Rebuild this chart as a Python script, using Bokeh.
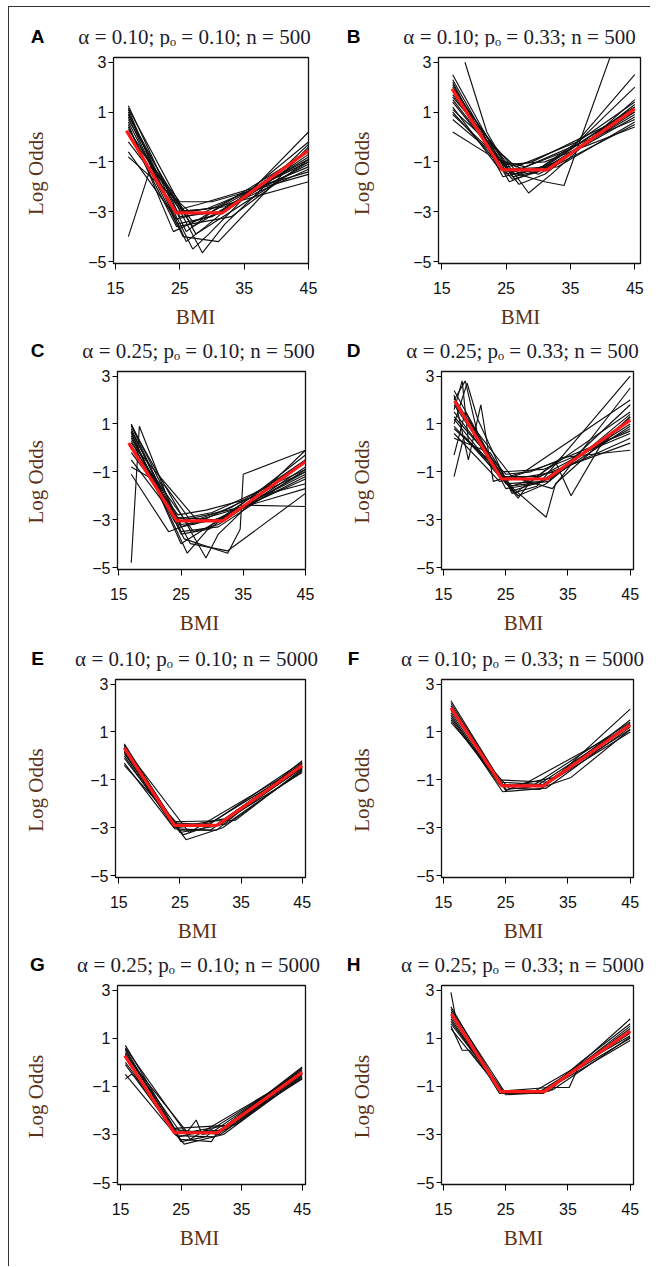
import math
from bokeh.plotting import figure
from bokeh.layouts import column, row
from bokeh.models import FixedTicker, Range1d
from bokeh.core.properties import value
from bokeh.embed import file_html
from bokeh.resources import INLINE

# ---------------- data ----------------
x_ticks = [15, 25, 35, 45]
y_ticks = [-5, -3, -1, 1, 3]
y_tick_labels = {-5: "\u22125", -3: "\u22123", -1: "\u22121", 1: "1", 3: "3"}
x_label = "BMI"
y_label = "Log Odds"

titles = {
    "A": "\u03b1 = 0.10; p\u2092 = 0.10; n = 500",
    "B": "\u03b1 = 0.10; p\u2092 = 0.33; n = 500",
    "C": "\u03b1 = 0.25; p\u2092 = 0.10; n = 500",
    "D": "\u03b1 = 0.25; p\u2092 = 0.33; n = 500",
    "E": "\u03b1 = 0.10; p\u2092 = 0.10; n = 5000",
    "F": "\u03b1 = 0.10; p\u2092 = 0.33; n = 5000",
    "G": "\u03b1 = 0.25; p\u2092 = 0.10; n = 5000",
    "H": "\u03b1 = 0.25; p\u2092 = 0.33; n = 5000",
}

# true (red) curves
true_bmi_A = [16.7, 24.4, 31.6, 45.0]
true_lo_A = [0.25, -3.05, -3.05, -0.55]
true_bmi_B = [16.6, 24.4, 31.4, 45.0]
true_lo_B = [1.93, -1.32, -1.32, 1.13]
true_bmi_C = [16.6, 24.3, 31.7, 45.0]
true_lo_C = [0.2, -3.05, -3.05, -0.58]
true_bmi_D = [16.8, 24.3, 31.6, 45.0]
true_lo_D = [1.97, -1.3, -1.3, 1.16]
true_bmi_E = [15.9, 24.1, 31.1, 45.0]
true_lo_E = [0.33, -2.9, -2.9, -0.4]
true_bmi_F = [16.2, 24.4, 31.1, 45.0]
true_lo_F = [2.0, -1.25, -1.25, 1.3]
true_bmi_G = [15.7, 23.9, 31.0, 45.0]
true_lo_G = [0.28, -2.93, -2.93, -0.42]
true_bmi_H = [16.3, 24.2, 31.2, 45.0]
true_lo_H = [2.0, -1.22, -1.22, 1.3]

# simulated (black) fits
bmi_A = [
    [17, 25, 31.5, 45], [17, 24.5, 30, 45], [17, 26, 30, 45], [17, 25.5, 32, 45],
    [17, 24, 28, 45], [17, 27, 33, 45], [17, 25, 30, 45], [17, 24.5, 29, 45],
    [17, 26.5, 31, 45], [17, 20.5, 27, 32, 45], [17, 28.5, 32, 45], [17, 27, 29.5, 45],
    [17, 25.5, 31, 45], [17, 24, 29, 45], [17, 25, 28, 45], [17, 26, 29, 45],
    [17, 24.5, 33, 45], [17, 27.5, 30.5, 45],
]
lo_A = [
    [1.25, -3.2, -3.0, -0.5], [1.1, -3.5, -3.2, -0.8], [0.9, -3.8, -3.0, -0.9], [0.7, -3.0, -2.8, -1.1],
    [0.5, -3.8, -3.3, -0.6], [0.3, -3.6, -2.7, -1.3], [0.1, -2.6, -2.6, -1.5], [-0.6, -3.3, -3.0, -1.0],
    [-0.8, -3.0, -2.8, -1.8], [-4.0, -1.2, -3.4, -3.0, -0.7], [0.9, -4.65, -3.5, -0.3], [0.6, -4.5, -3.9, 0.2],
    [0.4, -4.0, -4.2, -0.4], [1.0, -3.0, -2.9, -1.2], [-0.2, -2.9, -2.7, -1.4], [0.8, -4.2, -3.6, -0.2],
    [0.2, -3.6, -3.2, -0.9], [1.15, -3.9, -3.4, -1.0],
]

bmi_B = [
    [16.7, 25, 30, 45], [16.7, 24.5, 31, 45], [16.7, 26, 32, 45], [16.7, 25, 29, 45],
    [16.7, 27, 31, 45], [16.7, 24, 33, 45], [16.7, 26, 30, 45], [16.7, 25, 31, 45],
    [16.7, 23.5, 28, 45], [18.6, 22, 26, 31, 45], [16.7, 28.5, 32, 45], [16.7, 25.5, 31, 34, 41.3],
    [16.7, 26.5, 36, 45], [16.7, 25, 35, 45], [16.7, 24.5, 30, 45], [16.7, 27, 33, 45],
    [16.7, 25.5, 29.5, 45],
]
lo_B = [
    [2.5, -1.4, -1.3, 1.4], [2.2, -1.6, -1.2, 1.2], [2.0, -1.5, -1.1, 0.9], [1.7, -1.2, -1.0, 1.0],
    [1.5, -1.9, -1.5, 1.3], [1.2, -1.3, -1.2, 0.6], [1.0, -1.7, -1.4, 0.8], [0.7, -1.1, -1.0, 0.4],
    [0.2, -0.9, -1.2, 0.7], [3.0, 0.2, -1.6, -1.3, 1.1], [1.9, -2.25, -1.5, 1.5], [1.4, -1.4, -1.8, -1.95, 3.3],
    [1.1, -1.2, -0.2, 2.5], [2.3, -1.5, -0.5, 2.0], [0.9, -1.0, -1.5, 0.5], [1.6, -1.5, -1.0, 1.0],
    [2.1, -1.8, -1.4, 1.2],
]

bmi_C = [
    [17, 25, 31, 45], [17, 24, 30, 45], [17, 26, 30, 45], [17, 25, 32, 45],
    [17, 27.5, 33, 45], [17, 24.5, 29, 45], [17, 22.5, 27, 45], [17, 23, 28, 45],
    [17, 18.3, 25, 31, 45], [17, 29, 31, 45], [17, 25.5, 32.5, 34.5, 35, 45], [17, 26.5, 32.5, 45],
    [17, 24, 36, 45], [17, 25, 29.5, 45], [17, 24, 30.5, 45], [17, 27, 31, 45],
    [17, 25, 33, 45],
]
lo_C = [
    [1.0, -3.2, -3.0, -0.5], [0.8, -3.0, -2.7, -0.9], [0.6, -4.4, -3.2, -1.0], [0.4, -3.3, -2.9, -1.2],
    [0.2, -3.0, -2.5, -0.6], [-0.2, -2.8, -2.6, -1.5], [-0.8, -1.6, -3.2, -1.0], [-1.1, -3.5, -3.0, -1.7],
    [-4.8, 0.9, -3.5, -3.3, -0.9], [0.9, -4.6, -3.6, -0.1], [0.5, -3.8, -4.4, -3.4, -1.1, -0.1], [0.7, -4.0, -4.3, -1.9],
    [0.3, -3.1, -2.4, -2.45], [0.95, -3.6, -3.4, -0.3], [-0.5, -2.9, -3.0, -1.3], [0.1, -3.5, -3.2, -0.8],
    [0.65, -4.0, -2.7, -1.1],
]

bmi_D = [
    [16.7, 25, 31, 45], [16.7, 24.5, 30, 45], [16.7, 26, 32, 45], [16.7, 25, 29, 45],
    [16.7, 27, 31.5, 45], [16.7, 24, 33, 45], [16.7, 18.5, 25, 30, 45], [16.7, 18.3, 22, 26, 45],
    [16.7, 18, 19, 24, 31.5, 33, 45], [16.7, 18.8, 20.5, 26, 30, 45], [16.7, 19, 21, 23, 28, 45],
    [16.7, 22.5, 26.5, 34, 45], [16.7, 25, 33, 35.5, 40, 45], [16.7, 26, 32.5, 45],
    [16.7, 24.5, 31, 45], [16.7, 18.5, 21, 25.5, 32, 45], [16.7, 27, 29, 45],
]
lo_D = [
    [2.4, -1.5, -1.4, 1.2], [2.1, -1.2, -1.2, 1.5], [1.8, -1.8, -1.3, 0.9], [1.3, -1.1, -1.0, 0.7],
    [0.9, -2.0, -1.5, 1.8], [0.6, -1.4, -1.0, 0.4], [-0.3, 1.5, -1.7, -1.5, 1.0], [-1.2, 0.5, -0.5, -1.6, 0.2],
    [1.6, 2.8, 0.3, -1.2, -2.9, -1.5, 1.3], [1.0, 2.7, 1.2, -1.9, -1.6, 3.0], [2.2, -0.5, 1.8, -1.4, -1.0, 2.0],
    [0.4, -0.2, -1.9, -0.4, -0.1], [1.5, -1.3, -0.6, -2.0, 0.0, 1.3], [1.9, -1.2, -1.7, 2.5],
    [0.8, -1.0, -0.9, 0.6], [2.0, 2.8, 0.0, -1.6, -1.4, 1.4], [1.2, -2.1, -1.4, 0.8],
]

bmi_E = [
    [15.9, 24.3, 31, 45], [15.9, 24.5, 30, 45], [15.9, 24, 31.5, 45], [15.9, 25, 30.5, 45],
    [15.9, 26, 32, 45], [15.9, 24, 33, 45], [15.9, 25.5, 29, 45], [15.9, 24.8, 31, 45],
    [15.9, 23.5, 34, 45], [15.9, 26.5, 28.5, 45], [15.9, 24.2, 30, 45], [15.9, 25, 32.5, 45],
]
lo_E = [
    [0.5, -2.9, -2.9, -0.3], [0.4, -3.0, -2.8, -0.45], [0.2, -2.8, -2.9, -0.5], [0.1, -3.2, -2.95, -0.35],
    [-0.1, -3.5, -3.0, -0.6], [-0.3, -3.0, -2.6, -0.7], [0.3, -3.3, -3.0, -0.25], [0.45, -3.1, -3.1, -0.2],
    [0.0, -2.75, -2.7, -0.55], [0.35, -3.2, -2.9, -0.4], [0.15, -3.05, -3.1, -0.5], [-0.4, -2.95, -2.85, -0.65],
]

bmi_F = [
    [16.2, 24.5, 30, 45], [16.2, 24, 31, 45], [16.2, 25, 29, 45], [16.2, 24.5, 31.5, 45],
    [16.2, 23.5, 32, 45], [16.2, 25.5, 30.5, 45], [16.2, 24.8, 33, 45], [16.2, 24, 31, 35.5, 45],
    [16.2, 25, 28.5, 45], [16.2, 24.3, 31, 45],
]
lo_F = [
    [2.3, -1.2, -1.25, 1.3], [2.1, -1.1, -1.2, 1.1], [1.9, -1.4, -1.3, 1.4], [1.7, -1.5, -1.35, 1.2],
    [1.5, -1.0, -1.1, 1.0], [1.4, -1.35, -1.4, 1.5], [2.0, -1.3, -0.9, 1.95], [1.8, -1.2, -1.3, -0.9, 1.1],
    [2.2, -1.45, -1.1, 1.25], [1.6, -1.25, -1.2, 1.35],
]

bmi_G = [
    [15.8, 24.3, 31, 45], [15.8, 24.5, 30, 45], [15.8, 24, 31.5, 45], [15.8, 25, 29, 45],
    [15.8, 25.5, 32, 45], [15.8, 16.8, 17.5, 24, 33, 45], [15.8, 26, 27.5, 28.5, 31, 45],
    [15.8, 24.8, 30, 31, 45], [15.8, 23.8, 34, 45], [15.8, 26.5, 28.5, 45],
    [15.8, 24.2, 30.5, 45], [15.8, 25, 32.5, 45],
]
lo_G = [
    [0.7, -2.9, -2.9, -0.3], [0.55, -3.1, -2.8, -0.4], [0.4, -2.8, -3.0, -0.5], [0.2, -3.3, -3.1, -0.35],
    [-0.1, -3.4, -3.0, -0.6], [-0.7, -0.5, -0.6, -3.0, -2.6, -0.7], [0.3, -2.9, -2.4, -3.0, -2.9, -0.25],
    [0.5, -3.2, -3.3, -2.9, -0.2], [0.0, -2.75, -2.6, -0.55], [0.6, -3.2, -2.9, -0.45],
    [-0.5, -3.05, -3.1, -0.5], [0.35, -2.95, -2.8, -0.65],
]

bmi_H = [
    [16.2, 17, 24.3, 31, 45], [16.2, 24.5, 30, 45], [16.2, 24, 31.5, 45], [16.2, 25, 29, 45],
    [16.2, 24.5, 32, 45], [16.2, 18, 19.2, 24.3, 31, 45], [16.2, 24.2, 31.8, 35.2, 36.5, 45],
    [16.2, 25, 31, 37, 45], [16.2, 24.5, 30.5, 45], [16.2, 24, 31.2, 45], [16.2, 24.6, 32.5, 45],
]
lo_H = [
    [2.9, 1.8, -1.25, -1.25, 1.4], [2.3, -1.3, -1.3, 1.2], [2.1, -1.2, -1.2, 1.5], [1.9, -1.35, -1.3, 1.1],
    [1.7, -1.25, -1.2, 1.8], [1.5, 0.5, 0.5, -1.2, -1.2, 1.3], [1.8, -1.2, -1.05, -1.05, -0.3, 1.0],
    [2.2, -1.3, -1.3, 0.0, 1.6], [1.6, -1.2, -1.3, 0.9], [2.0, -1.3, -1.2, 1.25], [1.4, -1.3, -1.15, 1.05],
]

DATA = {
    "A": (bmi_A, lo_A, true_bmi_A, true_lo_A),
    "B": (bmi_B, lo_B, true_bmi_B, true_lo_B),
    "C": (bmi_C, lo_C, true_bmi_C, true_lo_C),
    "D": (bmi_D, lo_D, true_bmi_D, true_lo_D),
    "E": (bmi_E, lo_E, true_bmi_E, true_lo_E),
    "F": (bmi_F, lo_F, true_bmi_F, true_lo_F),
    "G": (bmi_G, lo_G, true_bmi_G, true_lo_G),
    "H": (bmi_H, lo_H, true_bmi_H, true_lo_H),
}

# ---------------- layout (pixels, page coordinates) ----------------
ORIGIN_X, ORIGIN_Y = 9, 7
COL_X = (9, 330)
COL_W = (321, 320)
TOTAL_W = 641
MAIN_BL = 32  # main figure left border (tick labels)
FRAME = {  # frame left/right in page px, x range
    "A": (113, 308, 14.69, 45.0), "B": (438, 640, 14.49, 45.89),
    "C": (117, 305, 14.79, 45.0), "D": (441, 633, 14.68, 45.53),
    "E": (115, 305, 14.46, 45.54), "F": (441, 633, 14.68, 45.53),
    "G": (117, 305, 14.5, 45.55), "H": (441, 633, 14.68, 45.53),
}
ROWS = [
    dict(keys=("A", "B"), head=40, body=258, foot=29, t=10, b=42),
    dict(keys=("C", "D"), head=31, body=246, foot=31, t=6, b=42),
    dict(keys=("E", "F"), head=30, body=247, foot=29, t=7, b=42),
    dict(keys=("G", "H"), head=30, body=248, foot=32, t=7, b=42),
]
Y0, Y1 = -5.08, 3.19
LETTER_X = (37, 353)
YLAB_X = (35, 361)

SERIF = "Liberation Serif"
SANS = "Liberation Sans"
TITLE_COLOR = "#1c1c2c"
LABEL_COLOR = "#5b3216"


def blank_fig(w, h):
    p = figure(width=w, height=h, x_range=Range1d(0, w), y_range=Range1d(0, h),
               output_backend="svg", toolbar_location=None, min_border=0,
               min_border_left=0, min_border_right=0, min_border_top=0, min_border_bottom=0,
               x_axis_location=None, y_axis_location=None,
               background_fill_color="white", border_fill_color="white")
    p.outline_line_color = None
    p.xgrid.visible = False
    p.ygrid.visible = False
    return p


def put_text(p, h, x, y_top, txt, font, size, color, style="normal", angle=0.0):
    p.text(x=[x], y=[h - y_top], text=[txt], angle=angle,
           text_font=value(font), text_font_size=value(size), text_font_style=style,
           text_color=color, text_align="center", text_baseline="middle")


def main_fig(key, w, h, t, b, r):
    fl, fr, x0, x1 = FRAME[key]
    xs, ys, tx, ty = DATA[key]
    p = figure(width=w, height=h, output_backend="svg", toolbar_location=None,
               x_range=Range1d(x0, x1), y_range=Range1d(Y0, Y1),
               min_border_left=MAIN_BL, min_border_right=r,
               min_border_top=t, min_border_bottom=b,
               background_fill_color="white", border_fill_color="white")
    p.outline_line_color = "#111111"
    p.outline_line_width = 1.3
    p.xgrid.visible = False
    p.ygrid.visible = False
    for ax in (p.xaxis[0], p.yaxis[0]):
        ax.axis_line_color = None
        ax.major_tick_in = 0
        ax.minor_tick_line_color = None
        ax.major_tick_line_color = "black"
        ax.major_tick_line_width = 1
        ax.major_label_text_font = SANS
        ax.major_label_text_font_size = "16px"
        ax.major_label_text_color = "#111111"
    p.xaxis.ticker = FixedTicker(ticks=x_ticks)
    p.xaxis.major_tick_out = 6
    p.xaxis.major_label_standoff = 12
    p.yaxis.ticker = FixedTicker(ticks=y_ticks)
    p.yaxis.major_label_overrides = y_tick_labels
    p.yaxis.major_tick_out = 5
    p.yaxis.major_label_standoff = 2
    p.multi_line(xs=xs, ys=ys, line_color="#111111", line_width=1.15)
    p.line(tx, ty, line_color="#ff1a1a", line_width=3.2)
    return p


rows_out = []
row_top = ORIGIN_Y
for R in ROWS:
    head_top = row_top
    body_top = row_top + R["head"]
    foot_top = body_top + R["body"]
    frame_top = body_top + R["t"]
    frame_bot = foot_top - R["b"]
    frame_mid = (frame_top + frame_bot) / 2.0

    header = blank_fig(TOTAL_W, R["head"])
    footer = blank_fig(TOTAL_W, R["foot"])
    body_children = []
    for ci, key in enumerate(R["keys"]):
        fl, fr, x0, x1 = FRAME[key]
        put_text(header, R["head"], LETTER_X[ci] - ORIGIN_X, frame_top - 21 - head_top,
                 key, SANS, "19px", "black", style="bold")
        put_text(header, R["head"], fl + 81 - ORIGIN_X, frame_top - 21 - head_top,
                 titles[key], SERIF, "21px", TITLE_COLOR)
        put_text(footer, R["foot"], fl + 82 - ORIGIN_X, frame_bot + 53 - foot_top,
                 x_label, SERIF, "21px", LABEL_COLOR)
        side_w = fl - MAIN_BL - COL_X[ci]
        side = blank_fig(side_w, R["body"])
        put_text(side, R["body"], YLAB_X[ci] - COL_X[ci], frame_mid + 32 - body_top,
                 y_label, SERIF, "21px", LABEL_COLOR, angle=math.pi / 2)
        main_w = COL_W[ci] - side_w
        right_border = COL_X[ci] + COL_W[ci] - fr
        body_children += [side, main_fig(key, main_w, R["body"], R["t"], R["b"], right_border)]
    rows_out += [header, row(*body_children), footer]
    row_top = foot_top + R["foot"]

layout = column(
    *rows_out,
    styles={"border-top": "1px solid #333333", "border-left": "1px solid #333333",
            "margin-left": "8px", "margin-top": "6px", "padding-bottom": "8px"},
)

open("out.html", "w").write(file_html(layout, INLINE))
